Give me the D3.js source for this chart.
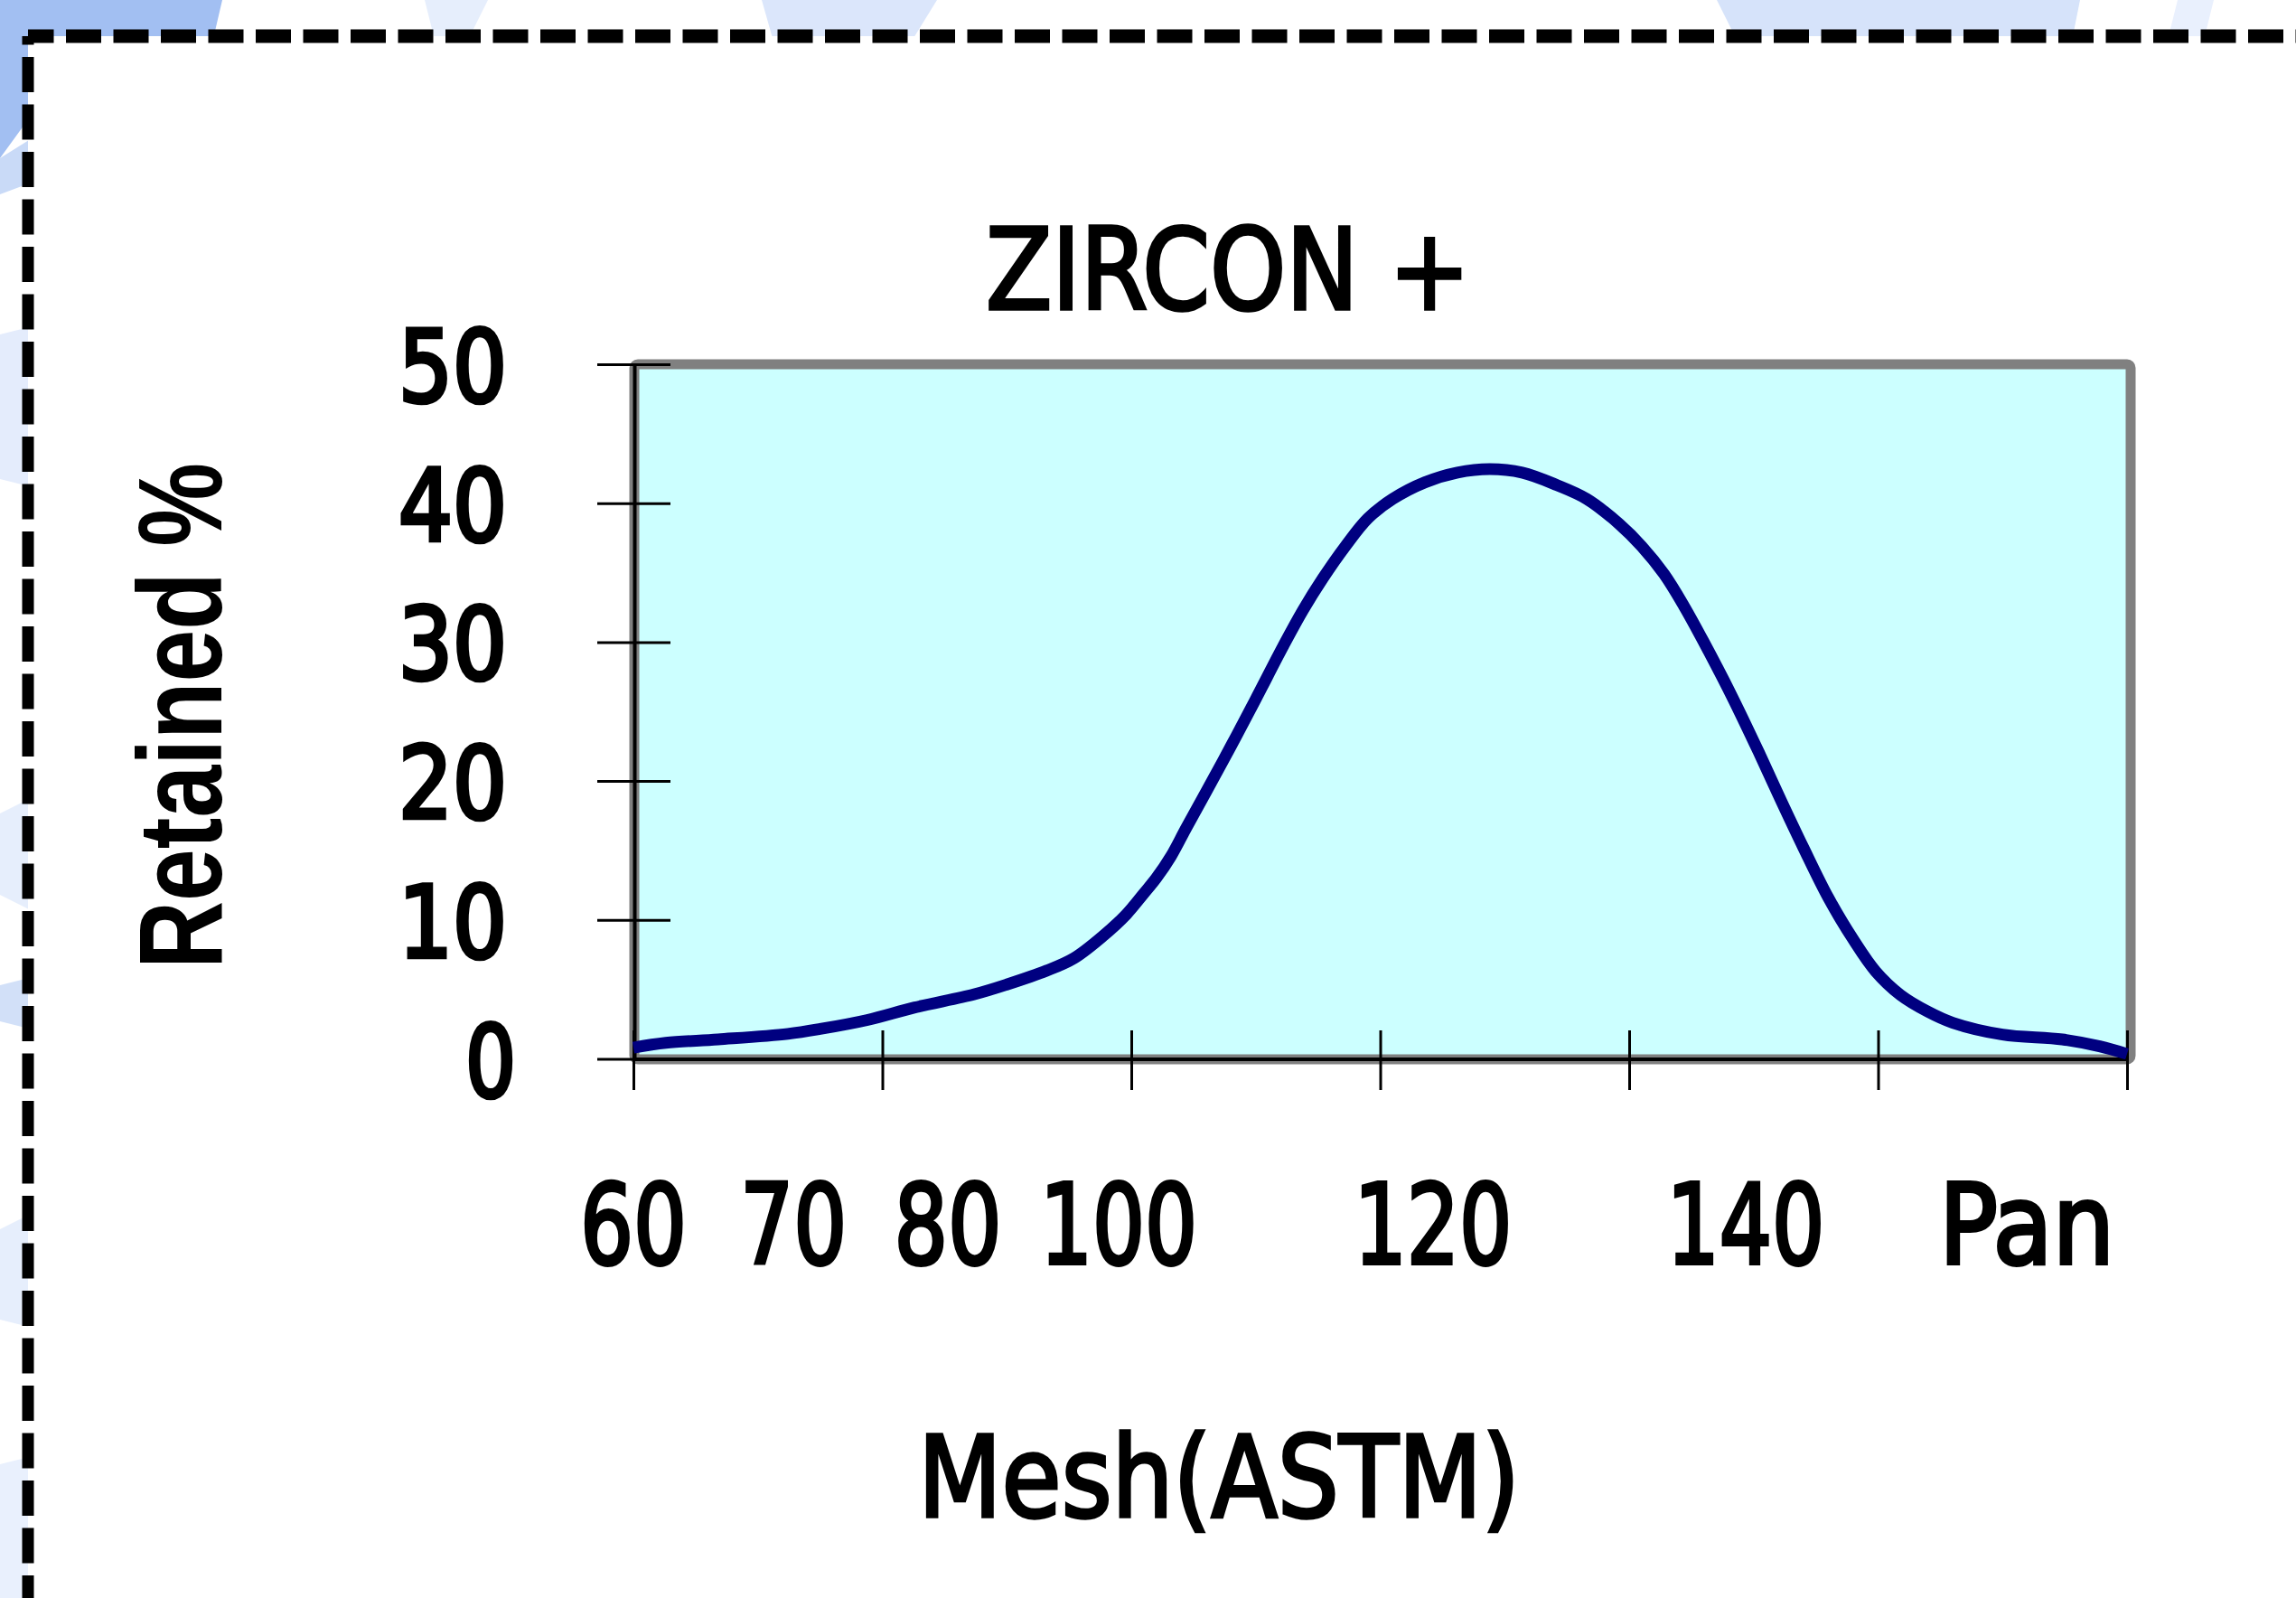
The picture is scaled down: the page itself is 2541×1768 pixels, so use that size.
<!DOCTYPE html>
<html>
<head>
<meta charset="utf-8">
<script src="https://cdn.jsdelivr.net/npm/d3@7"></script>
<style>
  body { margin: 0; background: #fff; }
  svg { display: block; }
</style>
</head>
<body>
<svg id="chart" width="2541" height="1768"></svg>
<script>
// Sieve ticks on the x axis (one tick per sieve, Pan last)
var meshLabels = ["60", "70", "80", "100", "120", "140", "Pan"];
var yTicks = [0, 10, 20, 30, 40, 50];

// Retained % curve, x given as position along the sieve ticks (0 = 60 ... 6 = Pan)
var sievePos = [0.00, 0.13, 0.34, 0.62, 0.75, 0.94, 1.13, 1.37, 1.50, 1.66, 1.77, 1.89, 1.98,
  2.05, 2.10, 2.16, 2.22, 2.30, 2.40, 2.50, 2.61, 2.69, 2.77, 2.86, 2.95, 3.05, 3.18, 3.31, 3.44,
  3.57, 3.71, 3.83, 3.96, 4.05, 4.14, 4.22, 4.30, 4.41, 4.52, 4.61, 4.70, 4.80, 4.90,
  4.99, 5.09, 5.20, 5.30, 5.50, 5.74, 5.89, 6.00];
var retained = [0.8, 1.15, 1.4, 1.8, 2.15, 2.8, 3.7, 4.65, 5.35, 6.35, 7.25, 8.9, 10.4,
  11.9, 13.0, 14.6, 16.6, 19.2, 22.5, 25.9, 29.7, 32.3, 34.6, 36.9, 38.9, 40.3, 41.5, 42.2, 42.45,
  42.2, 41.3, 40.3, 38.5, 36.9, 34.9, 32.6, 30.0, 26.2, 22.1, 18.6, 15.2, 11.6, 8.6,
  6.3, 4.6, 3.4, 2.6, 1.75, 1.4, 0.9, 0.35];

// layout: where each mesh label sits (the labels are offset from the ticks in the original)
var labelAt = [0, 0.643, 1.263, 1.949, 3.212, 4.468, 5.597];
var labelWidth = [118, 118, 119, 174, 175, 175, 194];

var svg = d3.select("#chart");
var x = d3.scaleLinear().domain([0, 6]).range([701, 2354]);
var y = d3.scaleLinear().domain([0, 50]).range([1171.5, 403]);

var condensed = "'DejaVu Sans Condensed', 'DejaVu Sans', sans-serif";

//Slide background shapes peeking out round the dashed box
var bg = svg.append("g");
bg.append("path").attr("d", "M0,0 L246,0 L232,60 L40,120 L0,175 Z").attr("fill", "#a2bff2");
bg.append("path").attr("d", "M0,175 L40,150 L40,200 L0,215 Z").attr("fill", "#c9daf7");
bg.append("path").attr("d", "M843,0 L1037,0 L1000,60 L860,60 Z").attr("fill", "#dbe6fb");
bg.append("path").attr("d", "M1900,0 L2302,0 L2290,60 L1930,60 Z").attr("fill", "#d6e3fa");
bg.append("path").attr("d", "M470,0 L540,0 L520,40 L480,40 Z").attr("fill", "#e6eefc");
bg.append("path").attr("d", "M2410,0 L2450,0 L2440,40 L2400,40 Z").attr("fill", "#e9f0fd");
bg.append("path").attr("d", "M0,370 L40,360 L40,540 L0,530 Z").attr("fill", "#e4ecfc");
bg.append("path").attr("d", "M0,900 L40,880 L40,1010 L0,990 Z").attr("fill", "#e6eefc");
bg.append("path").attr("d", "M0,1090 L40,1080 L40,1140 L0,1130 Z").attr("fill", "#d2e0f8");
bg.append("path").attr("d", "M0,1360 L40,1340 L40,1470 L0,1460 Z").attr("fill", "#e6eefc");
bg.append("path").attr("d", "M0,1620 L40,1610 L40,1768 L0,1768 Z").attr("fill", "#e9f0fd");

// white box with dashed frame
svg.append("rect").attr("x", 31).attr("y", 40).attr("width", 2600).attr("height", 1800)
    .attr("fill", "#fff");
svg.append("path").attr("d", "M31,40 L31,1800")
    .attr("stroke", "#000").attr("stroke-width", 13)
    .attr("stroke-dasharray", "39 13.5").attr("stroke-dashoffset", 29.5).attr("fill", "none");
svg.append("path").attr("d", "M31,40 L2600,40")
    .attr("stroke", "#000").attr("stroke-width", 15)
    .attr("stroke-dasharray", "39 13.5").attr("stroke-dashoffset", 10.5).attr("fill", "none");

// plot area
svg.append("rect")
    .attr("x", x(0) + 1).attr("y", y(50))
    .attr("width", x(6) + 4 - (x(0) + 1)).attr("height", y(0) - y(50) + 0.5)
    .attr("rx", 4)
    .attr("fill", "#ccffff").attr("stroke", "#808080").attr("stroke-width", 11);

// axis lines
svg.append("line").attr("x1", x(0) + 1.5).attr("x2", x(0) + 1.5).attr("y1", y(50)).attr("y2", y(0) + 2)
    .attr("stroke", "#000").attr("stroke-width", 4);
svg.append("line").attr("x1", x(0)).attr("x2", x(6) + 2).attr("y1", y(0) + 0.5).attr("y2", y(0) + 0.5)
    .attr("stroke", "#000").attr("stroke-width", 4);

// y axis: ticks cross the axis line
var yAxis = svg.append("g")
    .attr("transform", "translate(742,0)")
    .call(d3.axisLeft(y).tickValues(yTicks).tickSize(81).tickPadding(100).tickFormat(d3.format("d")));
yAxis.select(".domain").remove();
yAxis.selectAll(".tick line").attr("stroke", "#000").attr("stroke-width", 3);
yAxis.selectAll(".tick text")
    .attr("font-family", condensed)
    .attr("font-size", 111)
    .attr("fill", "#000")
    .attr("stroke", "#000").attr("stroke-width", 4.5)
    .attr("dy", "0.365em")
    .attr("dx", function(d) { return d === 0 ? 10 : 0; })
    .attr("textLength", function(d) { return d === 0 ? 56 : 120; })
    .attr("lengthAdjust", "spacingAndGlyphs");

// x axis ticks
var xAxis = svg.append("g")
    .attr("transform", "translate(0,1140)")
    .call(d3.axisBottom(x).tickValues(d3.range(meshLabels.length)).tickSize(66).tickFormat(""));
xAxis.select(".domain").remove();
xAxis.selectAll(".tick line").attr("stroke", "#000").attr("stroke-width", 3);

// mesh labels
svg.append("g").selectAll("text")
    .data(meshLabels)
    .enter().append("text")
    .attr("x", function(d, i) { return x(labelAt[i]); })
    .attr("y", 1398)
    .attr("text-anchor", "middle")
    .attr("font-family", condensed)
    .attr("font-size", 123)
    .attr("stroke", "#000").attr("stroke-width", 4)
    .attr("textLength", function(d, i) { return labelWidth[i]; })
    .attr("lengthAdjust", "spacingAndGlyphs")
    .text(function(d) { return d; });

// curve
var pts = sievePos.map(function(p, i) { return [p, retained[i]]; });
var line = d3.line()
    .x(function(d) { return x(d[0]); })
    .y(function(d) { return y(d[1]); })
    .curve(d3.curveCatmullRom);
svg.append("path")
    .datum(pts)
    .attr("d", line)
    .attr("fill", "none")
    .attr("stroke", "#000080")
    .attr("stroke-width", 13)
    .attr("stroke-linejoin", "round");

// titles
svg.append("text")
    .attr("x", 1091).attr("y", 342)
    .attr("font-family", condensed)
    .attr("font-size", 125)
    .attr("stroke", "#000").attr("stroke-width", 3.5)
    .attr("textLength", 536).attr("lengthAdjust", "spacingAndGlyphs")
    .text("ZIRCON +");

svg.append("text")
    .attr("x", 1016).attr("y", 1678)
    .attr("font-family", condensed)
    .attr("font-size", 125)
    .attr("stroke", "#000").attr("stroke-width", 3.5)
    .attr("textLength", 666).attr("lengthAdjust", "spacingAndGlyphs")
    .text("Mesh(ASTM)");

svg.append("text")
    .attr("transform", "translate(245,1072) rotate(-90)")
    .attr("font-family", "'Liberation Sans', Arial, sans-serif")
    .attr("font-weight", "bold")
    .attr("font-size", 131)
    .attr("textLength", 560).attr("lengthAdjust", "spacingAndGlyphs")
    .text("Retained %");
</script>
</body>
</html>
